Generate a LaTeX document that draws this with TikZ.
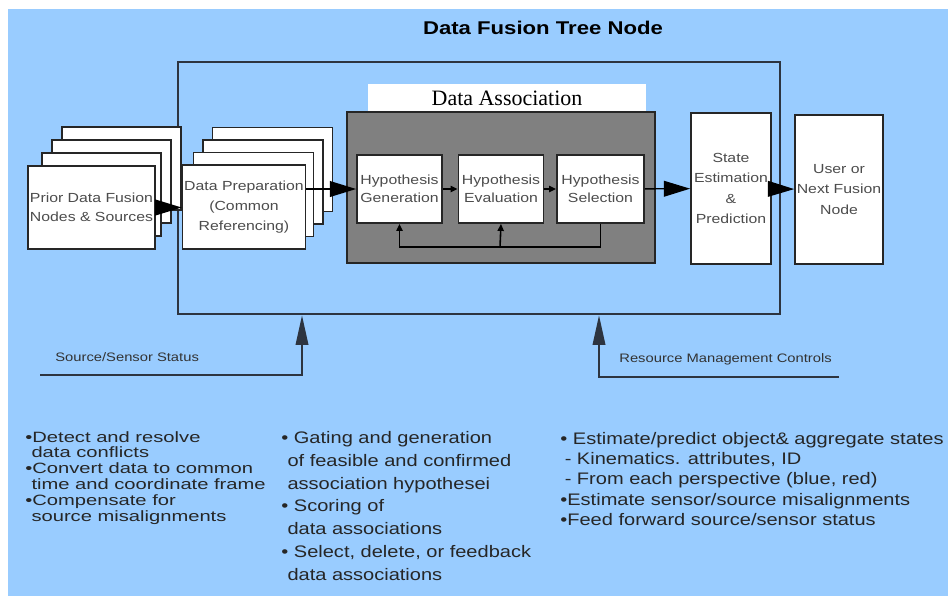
\documentclass[tikz,border=0pt]{standalone}
\usepackage{fontspec}
\setmainfont{Liberation Sans}
\newfontfamily\widesans[FakeStretch=1.2]{Liberation Sans}
\newfontfamily\widersans[FakeStretch=1.35]{Liberation Sans}
\newfontfamily\labelserif{Liberation Serif}
\usetikzlibrary{arrows.meta,fit}
\definecolor{skyback}{RGB}{153,204,255}
\definecolor{assocgray}{RGB}{128,128,128}
\definecolor{framegray}{RGB}{45,52,64}

\begin{document}
\begin{tikzpicture}[x=0.02cm, y=-0.02cm,
    card/.style={draw=black!85, line width=1pt, fill=white, inner sep=1pt,
      minimum width=2.38cm, minimum height=1.66cm, align=center, text=black!70,
      font=\widesans\fontsize{7.5pt}{10.5pt}\selectfont},
    tallcard/.style={card, font=\widesans\fontsize{7.5pt}{11.5pt}\selectfont},
    hyp/.style={card, minimum width=1.7cm, minimum height=1.36cm},
    bigarrow/.style={-{Triangle[length=15pt,width=9pt]}, line width=0.8pt},
    smallarrow/.style={-{Triangle[length=4pt,width=3.5pt]}, line width=0.9pt},
    feedarrow/.style={-{Triangle[length=17pt,width=7pt]}, line width=1.5pt, draw=framegray},
    statuslabel/.style={anchor=west, inner sep=0pt, text=black!80,
      font=\widesans\fontsize{7pt}{8pt}\selectfont},
    bullets/.style={anchor=north west, inner sep=0pt, align=left, text=black!85}]

    % background
    \useasboundingbox (0,0) rectangle (950,596);
    \fill[skyback] (8,9) rectangle (948,596);

    % title
    \node[font=\widesans\bfseries\fontsize{10.5pt}{12pt}\selectfont] (title) at (543,28) {Data Fusion Tree Node};

    % fusion node frame
    \coordinate (fnw) at (178,62);
    \coordinate (fse) at (780,314);
    \node[draw=framegray, line width=1.2pt, inner sep=0pt, fit=(fnw)(fse)] (frame) {};

    % prior nodes and sources
    \foreach \i in {3,2,1}
        \node[card] (prior\i) at (91.5+10*\i, 207.5-13*\i) {};
    \node[card] (prior0) at (91.5,207.5) {Prior Data Fusion\\Nodes \& Sources};

    % data preparation
    \foreach \i in {3,2,1}
        \node[tallcard, minimum width=2.4cm, minimum height=1.68cm] (prep\i) at (244+9.5*\i, 207-12.5*\i) {};
    \node[tallcard, minimum width=2.4cm, minimum height=1.68cm] (prep0) at (244,207) {Data Preparation\\(Common\\Referencing)};

    % data association
    \node[fill=white, minimum width=5.56cm, minimum height=0.58cm, inner sep=0pt,
        font=\labelserif\fontsize{12.5pt}{14pt}\selectfont] (assoclabel) at (507,98.5) {Data Association};
    \node[draw=black!85, line width=1pt, fill=assocgray, minimum width=6.16cm, minimum height=3.02cm] (assoc) at (501,187.5) {};
    \node[hyp] (gen) at (399.5,189) {Hypothesis\\Generation};
    \node[hyp] (eval) at (501,189) {Hypothesis\\Evaluation};
    \node[hyp, minimum width=1.74cm] (sel) at (600.5,189) {Hypothesis\\Selection};
    \coordinate (loop) at (500,247);
    \draw[smallarrow] (gen) -- (eval);
    \draw[smallarrow] (eval) -- (sel);
    \draw[smallarrow] (sel.south) |- (loop) -| (gen.south);
    \draw[smallarrow] (loop) -- (eval.south);

    % state estimation and user
    \node[tallcard, minimum width=1.6cm, minimum height=3.02cm] (state) at (731,188.5) {State\\Estimation\\\&\\Prediction};
    \node[tallcard, minimum width=1.72cm, minimum height=2.98cm] (user) at (839,189.5) {User or\\Next Fusion\\Node};

    % main flow
    \draw[bigarrow] (prior0.east) -- (prior0.east -| prep0.west);
    \draw[bigarrow] (prep0.east |- gen.west) -- (gen.west);
    \draw[bigarrow] (sel) -- (state);
    \draw[bigarrow] (state) -- (user);

    % status and controls
    \coordinate (srcstart) at (40,375);
    \coordinate (srcbend) at (302,375);
    \draw[feedarrow] (srcstart) -- (srcbend) -- (srcbend |- frame.south);
    \node[statuslabel] (srclabel) at (55,357) {Source/Sensor Status};
    \coordinate (resstart) at (839,377);
    \coordinate (resbend) at (599,377);
    \draw[feedarrow] (resstart) -- (resbend) -- (resbend |- frame.south);
    \node[statuslabel] (reslabel) at (619,359) {Resource Management Controls};

    % notes
    \node[bullets, font=\widersans\fontsize{8.5pt}{9pt}\selectfont] (prepnotes) at (25,431)
        {•Detect and resolve\\\hspace*{3.5pt}data conflicts\\
         •Convert data to common\\\hspace*{3.5pt}time and coordinate frame\\
         •Compensate for\\\hspace*{3.5pt}source misalignments};
    \node[bullets, font=\widesans\fontsize{9.5pt}{13pt}\selectfont] (assocnotes) at (281,431)
        {• Gating and generation\\\hspace*{3.5pt}of feasible and confirmed\\\hspace*{3.5pt}association hypothesei\\
         • Scoring of\\\hspace*{3.5pt}data associations\\
         • Select, delete, or feedback\\\hspace*{3.5pt}data associations};
    \node[bullets, font=\widesans\fontsize{9.5pt}{11.5pt}\selectfont] (statenotes) at (560,432)
        {• Estimate/predict object\& aggregate states\\
         \hspace*{2.5pt}- Kinematics. attributes, ID\\
         \hspace*{2.5pt}- From each perspective (blue, red)\\
         •Estimate sensor/source misalignments\\
         •Feed forward source/sensor status};
\end{tikzpicture}
\end{document}
